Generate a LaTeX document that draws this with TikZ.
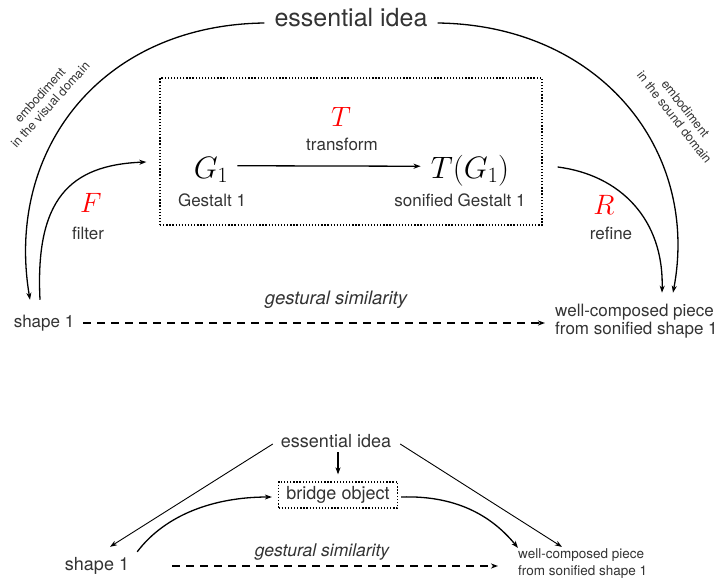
\RequirePackage{fix-cm}
\documentclass[tikz,border=0pt]{standalone}
\usepackage[no-math]{fontspec}
\setmainfont{TeX Gyre Heros}
\usetikzlibrary{arrows.meta}
\definecolor{txt}{HTML}{333333}
\begin{document}
\begin{tikzpicture}[x=1pt,y=-1pt,
  lbl/.style={inner sep=0pt,text=txt,font=\fontsize{17}{20}\selectfont},
  redm/.style={inner sep=0pt,text=red,font=\fontsize{28}{32}\selectfont},
  mathbig/.style={inner sep=5pt,font=\fontsize{31}{36}\selectfont},
  dotbox/.style={draw,line width=1.3pt,dash pattern=on 1.3pt off 1.8pt},
  conn/.style={line width=1.3pt,-{Stealth[length=7pt,width=5pt,inset=2pt]}},
  thinconn/.style={line width=0.9pt,-{Stealth[length=7pt,width=5pt,inset=2pt]}},
  dasharr/.style={line width=1.4pt,dash pattern=on 8pt off 6pt,-{Stealth[length=7pt,width=5pt,inset=2pt]}}]
\useasboundingbox (0,0) rectangle (722,586);
% ---------- top diagram ----------
\node[lbl,font=\fontsize{25}{30}\selectfont] (ess) at (351,18) {essential idea};
\node[dotbox,minimum width=382pt,minimum height=147pt] (box) at (351,151.5) {};
\node[mathbig,anchor=base] (g1) at (211,178) {$G_1$};
\node[mathbig,anchor=base] (tg1) at (470,178) {$T(G_1)$};
\node[lbl] (g1l) at (212,200) {Gestalt 1};
\node[lbl] (tg1l) at (460,200) {sonified Gestalt 1};
\node[redm] (tT) at (341,117) {$T$};
\node[lbl] (trl) at (342,144) {transform};
\node[redm] (fF) at (91,203) {$F$};
\node[lbl] (fl) at (88,233) {filter};
\node[redm] (rR) at (604,205) {$R$};
\node[lbl] (rl) at (611,233) {refine};
\node[lbl] (sh1) at (44,323) {shape 1};
\node[lbl,anchor=west,align=left,font=\fontsize{17}{18}\selectfont] (wcp) at (555,321) {well-composed piece\\from sonified shape 1};
\node[lbl,font=\fontsize{18.5}{22}\selectfont\itshape] (gs1) at (336,300) {gestural similarity};
\node[lbl,font=\fontsize{12.5}{14}\selectfont,align=center,rotate=48] (emb1) at (45,100) {embodiment\\in the visual domain};
\node[lbl,font=\fontsize{12.5}{14}\selectfont,align=center,rotate=-52] (emb2) at (680,113) {embodiment\\in the sound domain};

\draw[conn] ([shift={(-10pt,-5pt)}]ess.west) .. controls +(-163,2) and +(-25,-150) .. ([shift={(-14pt,15pt)}]sh1.north);
\draw[conn] ([shift={(10pt,-5pt)}]ess.east) .. controls +(162,2) and +(27,-143) .. ([shift={(118pt,11pt)}]wcp.north west);
\draw[conn] ([shift={(-4pt,15pt)}]sh1.north) .. controls +(-5,-100) and +(-77,3) .. ([shift={(-13pt,-10.5pt)}]box.west);
\draw[conn] ([shift={(15pt,-15.5pt)}]box.east) .. controls +(63,8) and +(2,-73) .. ([shift={(107pt,11pt)}]wcp.north west);
\draw[conn,shorten <=4pt,shorten >=5pt] ([yshift=4pt]g1.east) -- ([yshift=4pt]tg1.west);
\draw[dasharr,shorten <=9pt,shorten >=10pt] (sh1.east) -- (sh1.east -| wcp.west);
% ---------- bottom diagram ----------
\node[lbl,font=\fontsize{18}{22}\selectfont] (ess2) at (336,441) {essential idea};
\node[dotbox,line width=1.2pt,inner sep=0pt,minimum width=119pt,minimum height=26pt,text=txt,font=\fontsize{18}{22}\selectfont] (br) at (338,495) {bridge object};
\node[lbl,font=\fontsize{18}{22}\selectfont] (sh2) at (97,566) {shape 1};
\node[lbl,anchor=west,align=left,font=\fontsize{13.5}{17}\selectfont] (wcp2) at (518,564) {well-composed piece\\from sonified shape 1};
\node[lbl,font=\fontsize{17.5}{21}\selectfont\itshape] (gs2) at (322,552) {gestural similarity};

\draw[thinconn] ([shift={(-8pt,-3pt)}]ess2.west) -- ([shift={(13pt,10.5pt)}]sh2.north);
\draw[thinconn] ([shift={(9pt,-3pt)}]ess2.east) -- ([shift={(44pt,2pt)}]wcp2.north west);
\draw[conn,shorten <=4.5pt,shorten >=7pt] (br.north |- ess2.south) -- (br.north);
\draw[conn] ([shift={(8pt,5.5pt)}]sh2.north east) .. controls +(28,-37) and +(-58,0) .. ([shift={(-6pt,-2pt)}]br.west);
\draw[conn] ([shift={(3pt,-2pt)}]br.east) .. controls +(60,-2) and +(-23,-28) .. ([shift={(0pt,1pt)}]wcp2.north west);
\draw[dasharr,shorten <=43pt,shorten >=20pt] (sh2.east) -- (sh2.east -| wcp2.west);
\end{tikzpicture}
\end{document}
